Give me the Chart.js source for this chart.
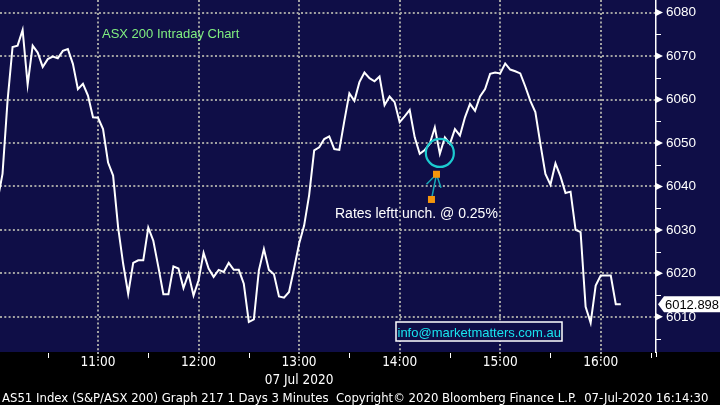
<!DOCTYPE html>
<html>
<head>
<meta charset="utf-8">
<script src="https://cdn.jsdelivr.net/npm/chart.js@4/dist/chart.umd.min.js"></script>
<style>
  html, body { margin: 0; padding: 0; background: #000; }
  canvas { display: block; }
</style>
</head>
<body>
<canvas id="asxChart" width="720" height="405"></canvas>
<script>
// 3 minute bars, 07 Jul 2020
const times = [
    '10:00','10:03','10:06','10:09','10:12','10:15','10:18','10:21','10:24','10:27','10:30','10:33','10:36','10:39','10:42','10:45','10:48','10:51','10:54','10:57',
    '11:00','11:03','11:06','11:09','11:12','11:15','11:18','11:21','11:24','11:27','11:30','11:33','11:36','11:39','11:42','11:45','11:48','11:51','11:54','11:57',
    '12:00','12:03','12:06','12:09','12:12','12:15','12:18','12:21','12:24','12:27','12:30','12:33','12:36','12:39','12:42','12:45','12:48','12:51','12:54','12:57',
    '13:00','13:03','13:06','13:09','13:12','13:15','13:18','13:21','13:24','13:27','13:30','13:33','13:36','13:39','13:42','13:45','13:48','13:51','13:54','13:57',
    '14:00','14:03','14:06','14:09','14:12','14:15','14:18','14:21','14:24','14:27','14:30','14:33','14:36','14:39','14:42','14:45','14:48','14:51','14:54','14:57',
    '15:00','15:03','15:06','15:09','15:12','15:15','15:18','15:21','15:24','15:27','15:30','15:33','15:36','15:39','15:42','15:45','15:48','15:51','15:54','15:57',
    '16:00','16:03','16:06','16:09','16:12'
];
const prices = [
    6036.7, 6042.9, 6059.7, 6072.1, 6072.4, 6076.0, 6063.4, 6072.4, 6070.8, 6067.5, 6069.3, 6069.9, 6069.5, 6071.2, 6071.6, 6068.2, 6062.4, 6063.6, 6060.9, 6055.9,
    6055.8, 6053.2, 6045.5, 6042.5, 6030.6, 6022.2, 6015.3, 6022.4, 6023.0, 6023.0, 6030.5, 6027.5, 6021.5, 6015.2, 6015.2, 6021.6, 6021.1, 6016.6, 6019.9, 6014.9,
    6018.4, 6024.7, 6021.1, 6019.2, 6020.8, 6020.3, 6022.4, 6020.8, 6020.8, 6017.6, 6008.8, 6009.4, 6020.7, 6025.6, 6020.8, 6019.8, 6014.7, 6014.4, 6015.7, 6021.1,
    6026.8, 6031.0, 6038.0, 6048.3, 6049.0, 6050.9, 6051.5, 6048.6, 6048.4, 6055.1, 6061.4, 6059.7, 6064.0, 6066.2, 6064.9, 6064.2, 6065.3, 6058.7, 6060.7, 6059.4,
    6054.8, 6056.1, 6057.6, 6051.3, 6047.5, 6048.4, 6049.8, 6053.6, 6047.5, 6051.3, 6049.8, 6053.2, 6051.7, 6055.9, 6059.0, 6057.4, 6060.7, 6062.4, 6065.9, 6066.2,
    6066.0, 6068.3, 6066.9, 6066.5, 6066.0, 6063.0, 6059.7, 6057.1, 6049.8, 6042.9, 6040.4, 6045.3, 6042.3, 6038.5, 6038.8, 6030.0, 6029.5, 6012.3, 6008.6, 6017.2,
    6019.5, 6019.5, 6019.5, 6012.9, 6012.9
];
const lastPrice = 6012.898;
const yTicks = [6010, 6020, 6030, 6040, 6050, 6060, 6070, 6080];
const yMinorTicks = [6005, 6015, 6025, 6035, 6045, 6055, 6065, 6075];
const xTicks = ['11:00', '12:00', '13:00', '14:00', '15:00', '16:00'];
const xMinorTicks = ['10:30', '11:30', '12:30', '13:30', '14:30', '15:30', '16:30'];
const dateTick = '13:00';
const dateLabel = '07 Jul 2020';
const chartTitle = 'ASX 200 Intraday Chart';
const noteText = 'Rates leftt unch. @ 0.25%';
const noteCircle = { time: '14:24', price: 6047.7 };
const noteMarkers = [{ time: '14:22', price: 6042.8 }, { time: '14:19', price: 6037.0 }];
const contact = 'info@marketmatters.com.au';
const footer = 'AS51 Index (S&P/ASX 200) Graph 217 1 Days 3 Minutes  Copyright\u00a9 2020 Bloomberg Finance L.P.  07-Jul-2020 16:14:30';

const NAVY = '#0f0e47';
const GRID = '#a2a2a2';
const SANS = '"Liberation Sans", Arial, sans-serif';
const NARROW = '"DejaVu Sans Condensed", "Liberation Sans Narrow", sans-serif';

const toMin = t => { const [h, m] = t.split(':').map(Number); return (h - 10) * 60 + m; };
const fmtMin = v => `${Math.floor(v / 60) + 10}:${String(v % 60).padStart(2, '0')}`;

const backdrop = {
    id: 'backdrop',
    beforeDraw(chart) {
        const { ctx, chartArea } = chart;
        ctx.save();
        ctx.fillStyle = '#000';
        ctx.fillRect(0, 0, chart.width, chart.height);
        ctx.fillStyle = NAVY;
        ctx.fillRect(0, 0, chart.width, chartArea.bottom);
        ctx.restore();
    }
};

const decorations = {
    id: 'decorations',
    afterDraw(chart) {
        const { ctx, chartArea, scales: { x, y } } = chart;
        ctx.save();

        // hour tick extensions and half hour ticks under the plot
        ctx.lineWidth = 2;
        ctx.strokeStyle = GRID;
        ctx.setLineDash([2, 2.3]);
        xTicks.forEach(t => {
            const px = Math.round(x.getPixelForValue(toMin(t)));
            ctx.beginPath(); ctx.moveTo(px, chartArea.bottom); ctx.lineTo(px, chartArea.bottom + 6); ctx.stroke();
        });
        ctx.setLineDash([]);
        ctx.lineWidth = 1;
        ctx.strokeStyle = '#fff';
        xMinorTicks.forEach(t => {
            const px = Math.round(x.getPixelForValue(toMin(t))) + 0.5;
            ctx.beginPath(); ctx.moveTo(px, chartArea.bottom + 1); ctx.lineTo(px, chartArea.bottom + 6); ctx.stroke();
        });

        // right axis markers
        const ax = chartArea.right;
        ctx.beginPath(); ctx.moveTo(ax + 0.5, chartArea.bottom); ctx.lineTo(ax + 0.5, chartArea.bottom + 5); ctx.stroke();
        ctx.fillStyle = '#fff';
        yTicks.forEach(v => {
            const py = y.getPixelForValue(v);
            ctx.beginPath(); ctx.moveTo(ax, py - 3.5); ctx.lineTo(ax + 7, py); ctx.lineTo(ax, py + 3.5); ctx.closePath(); ctx.fill();
        });
        yMinorTicks.forEach(v => {
            const py = Math.round(y.getPixelForValue(v)) + 0.5;
            ctx.beginPath(); ctx.moveTo(ax, py); ctx.lineTo(ax + 5, py); ctx.stroke();
        });

        // last price tag
        const ly = y.getPixelForValue(lastPrice);
        ctx.fillStyle = '#fff';
        ctx.beginPath();
        ctx.moveTo(ax + 2, ly); ctx.lineTo(ax + 8, ly - 8); ctx.lineTo(chart.width, ly - 8);
        ctx.lineTo(chart.width, ly + 8); ctx.lineTo(ax + 8, ly + 8); ctx.closePath(); ctx.fill();
        ctx.fillStyle = '#000';
        ctx.font = `13px ${SANS}`;
        ctx.textAlign = 'left';
        ctx.textBaseline = 'middle';
        ctx.fillText(lastPrice.toFixed(3), ax + 9, ly + 1, chart.width - ax - 10);

        // title
        ctx.fillStyle = '#80ef80';
        ctx.font = `13px ${SANS}`;
        ctx.textBaseline = 'alphabetic';
        ctx.fillText(chartTitle, 102, 37.5);

        // contact box
        ctx.fillStyle = NAVY;
        ctx.fillRect(396, 322, 166, 19);
        ctx.strokeStyle = '#fff';
        ctx.lineWidth = 1.5;
        ctx.strokeRect(396, 322, 166, 19);
        ctx.fillStyle = '#19e3ef';
        ctx.font = `13px ${SANS}`;
        ctx.fillText(contact, 397.5, 336.5);

        // footer
        ctx.fillStyle = '#fff';
        ctx.font = `13px ${NARROW}`;
        ctx.fillText(footer, 2, 401.5, 715);
        ctx.restore();
    },
    afterDatasetsDraw(chart) {
        const { ctx, scales: { x, y } } = chart;
        ctx.save();
        const [top, bottom] = noteMarkers.map(m => ({ px: x.getPixelForValue(toMin(m.time)), py: y.getPixelForValue(m.price) }));
        ctx.strokeStyle = '#17a6b6';
        ctx.lineWidth = 1.5;
        ctx.beginPath();
        ctx.moveTo(top.px, top.py); ctx.lineTo(bottom.px, bottom.py);
        ctx.moveTo(top.px, top.py); ctx.lineTo(top.px - 10, top.py + 10);
        ctx.moveTo(top.px, top.py); ctx.lineTo(top.px + 4.5, top.py + 13.5);
        ctx.stroke();
        ctx.fillStyle = '#f5960c';
        [top, bottom].forEach(p => ctx.fillRect(p.px - 3.5, p.py - 3.5, 7, 7));

        ctx.strokeStyle = '#1ccbd0';
        ctx.lineWidth = 2.2;
        ctx.beginPath();
        ctx.arc(x.getPixelForValue(toMin(noteCircle.time)), y.getPixelForValue(noteCircle.price), 14, 0, Math.PI * 2);
        ctx.stroke();

        ctx.fillStyle = '#fff';
        ctx.font = `14px ${SANS}`;
        ctx.textAlign = 'left';
        ctx.fillText(noteText, 335, 218);
        ctx.restore();
    }
};

new Chart(document.getElementById('asxChart').getContext('2d'), {
    type: 'line',
    data: {
        datasets: [{
            data: times.map((t, i) => ({ x: toMin(t), y: prices[i] })),
            borderColor: '#ffffff',
            borderWidth: 2,
            pointRadius: 0,
            tension: 0
        }]
    },
    options: {
        responsive: false,
        animation: false,
        layout: { padding: 0 },
        plugins: { legend: { display: false }, tooltip: { enabled: false }, title: { display: false } },
        scales: {
            x: {
                type: 'linear',
                min: 1.5,
                max: 393,
                afterBuildTicks: scale => { scale.ticks = xTicks.map(t => ({ value: toMin(t) })); },
                afterFit: scale => { scale.height = 53; scale.paddingLeft = 0; scale.paddingRight = 0; },
                grid: { color: GRID, lineWidth: 2, drawTicks: false },
                border: { display: false, dash: [2, 2.3] },
                ticks: {
                    color: '#fff',
                    padding: 2,
                    maxRotation: 0,
                    autoSkip: false,
                    font: { family: NARROW, size: 13.5, lineHeight: 1.3 },
                    callback: v => v === toMin(dateTick) ? [fmtMin(v), dateLabel] : fmtMin(v)
                }
            },
            y: {
                position: 'right',
                min: 6001.9,
                max: 6082.9,
                afterBuildTicks: scale => { scale.ticks = yTicks.map(v => ({ value: v })); },
                afterFit: scale => { scale.width = 64; scale.paddingTop = 0; scale.paddingBottom = 0; },
                grid: { color: GRID, lineWidth: 2, drawTicks: false },
                border: { display: true, color: '#fff', width: 1.5, dash: [2, 2.3] },
                ticks: {
                    color: '#fff',
                    padding: 10,
                    font: { family: SANS, size: 13.5 },
                    callback: v => String(v)
                }
            }
        }
    },
    plugins: [backdrop, decorations]
});
</script>
</body>
</html>
